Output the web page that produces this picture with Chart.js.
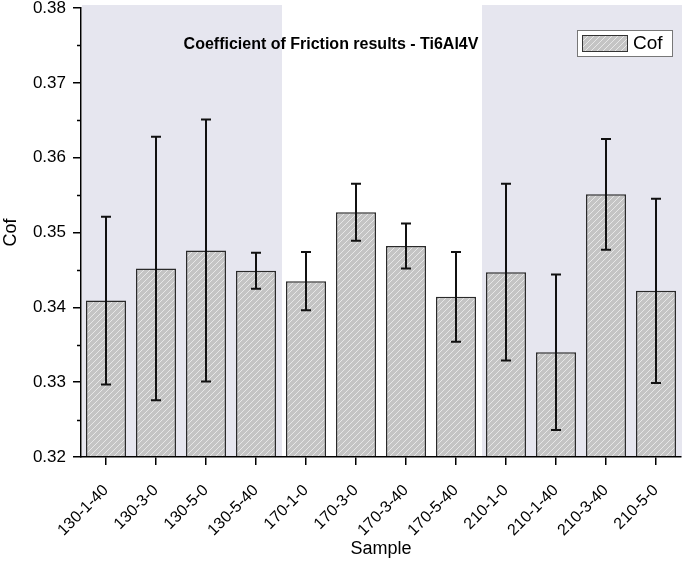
<!DOCTYPE html>
<html lang="en">
<head>
  <meta charset="UTF-8">
  <title>Coefficient of Friction results - Ti6Al4V</title>
  <script src="https://cdn.jsdelivr.net/npm/chart.js"></script>
  <style>
    html, body { margin: 0; padding: 0; background: #fff; }
    #wrap { width: 685px; height: 561px; }
  </style>
</head>
<body>
  <div id="wrap"><canvas id="cofChart" width="685" height="561"></canvas></div>

  <script>
    const samples = ['130-1-40', '130-3-0', '130-5-0', '130-5-40', '170-1-0', '170-3-0',
                     '170-3-40', '170-5-40', '210-1-0', '210-1-40', '210-3-40', '210-5-0'];
    const cofMean = [0.3409, 0.3452, 0.3476, 0.3449, 0.3435, 0.3527,
                     0.3482, 0.3414, 0.3447, 0.3340, 0.3551, 0.3422];
    const cofErr  = [0.0112, 0.0176, 0.0175, 0.0024, 0.0039, 0.0038,
                     0.0030, 0.0060, 0.0118, 0.0104, 0.0074, 0.0123];
    const minorTicks = [0.325, 0.335, 0.345, 0.355, 0.365, 0.375];
    // shaded groups (index ranges of samples)
    const shadedGroups = [[0, 3], [8, 11]];
    const chartTitle = 'Coefficient of Friction results - Ti6Al4V';
    const FONT = '"Liberation Sans", Arial, sans-serif';

    function hatchPattern() {
      const c = document.createElement('canvas');
      c.width = 6; c.height = 6;
      const g = c.getContext('2d');
      g.fillStyle = '#c4c4c4';
      g.fillRect(0, 0, 6, 6);
      g.strokeStyle = 'rgba(255,255,255,0.75)';
      g.lineWidth = 0.8;
      g.beginPath();
      g.moveTo(0, 6); g.lineTo(6, 0);
      g.moveTo(-3, 3); g.lineTo(3, -3);
      g.moveTo(3, 9); g.lineTo(9, 3);
      g.stroke();
      return g.createPattern(c, 'repeat');
    }
    const hatch = hatchPattern();

    // lavender panels behind groups + minor y ticks
    const shadePlugin = {
      id: 'shade',
      beforeDraw(chart) {
        const { ctx, chartArea, scales: { x, y } } = chart;
        const half = (x.getPixelForValue(1) - x.getPixelForValue(0)) / 2;
        ctx.save();
        ctx.fillStyle = '#e6e6ef';
        shadedGroups.forEach(([a, b]) => {
          const l = x.getPixelForValue(a) - half + 1;
          const r = x.getPixelForValue(b) + half + 1;
          ctx.fillRect(l, chartArea.top - 3, r - l, chartArea.bottom - chartArea.top + 3);
        });
        ctx.strokeStyle = '#000';
        ctx.lineWidth = 1.5;
        ctx.beginPath();
        minorTicks.forEach(v => {
          const py = Math.round(y.getPixelForValue(v)) + 0.5;
          ctx.moveTo(chartArea.left - 4, py);
          ctx.lineTo(chartArea.left, py);
        });
        ctx.stroke();
        ctx.restore();
      }
    };

    const errorBarPlugin = {
      id: 'errorBars',
      afterDatasetsDraw(chart) {
        const { ctx, scales: { x, y } } = chart;
        ctx.save();
        ctx.strokeStyle = '#111';
        ctx.lineWidth = 2;
        cofMean.forEach((m, i) => {
          const px = x.getPixelForValue(i);
          const top = y.getPixelForValue(m + cofErr[i]);
          const bot = y.getPixelForValue(m - cofErr[i]);
          ctx.beginPath();
          ctx.moveTo(px, top); ctx.lineTo(px, bot);
          ctx.moveTo(px - 5, top); ctx.lineTo(px + 5, top);
          ctx.moveTo(px - 5, bot); ctx.lineTo(px + 5, bot);
          ctx.stroke();
        });
        ctx.restore();
      }
    };

    const titleLegendPlugin = {
      id: 'titleLegend',
      afterDraw(chart) {
        const ctx = chart.ctx;
        ctx.save();
        ctx.fillStyle = '#000';
        ctx.font = 'bold 16px ' + FONT;
        ctx.textAlign = 'center';
        ctx.textBaseline = 'middle';
        ctx.fillText(chartTitle, 331, 45);

        // legend box
        ctx.fillStyle = '#fff';
        ctx.fillRect(577, 30, 96, 27);
        ctx.strokeStyle = '#777';
        ctx.lineWidth = 1;
        ctx.strokeRect(577.5, 30.5, 95, 26);
        ctx.fillStyle = hatch;
        ctx.fillRect(582, 35, 46, 17);
        ctx.strokeStyle = '#333';
        ctx.strokeRect(582.5, 35.5, 45, 16);
        ctx.fillStyle = '#000';
        ctx.font = '19px ' + FONT;
        ctx.textAlign = 'left';
        ctx.fillText(chart.data.datasets[0].label, 633, 44);
        ctx.restore();
      }
    };

    new Chart(document.getElementById('cofChart'), {
      type: 'bar',
      data: {
        labels: samples,
        datasets: [{
          label: 'Cof',
          data: cofMean,
          backgroundColor: hatch,
          borderColor: '#2a2a2a',
          borderWidth: 1.5,
          borderSkipped: false,
          barPercentage: 0.8,
          categoryPercentage: 1.0
        }]
      },
      options: {
        responsive: false,
        animation: false,
        layout: { padding: { top: 8, right: 4, left: 0, bottom: 0 } },
        plugins: {
          legend: { display: false },
          tooltip: { enabled: false }
        },
        scales: {
          x: {
            grid: { display: true, drawOnChartArea: false, offset: false, tickLength: 8, color: '#000', lineWidth: 1.5 },
            border: { display: true, color: '#000', width: 1.5, z: 1 },
            ticks: {
              color: '#000', font: { family: FONT, size: 16 },
              minRotation: 45, maxRotation: 45, padding: 16
            },
            title: { display: true, text: 'Sample', color: '#000', font: { family: FONT, size: 18 }, padding: { top: 0, bottom: 1 } },
            afterFit(scale) {
              scale.height = 104;
              scale.paddingTop = 0; scale.paddingBottom = 0;
              scale.paddingLeft = 0; scale.paddingRight = 0;
            }
          },
          y: {
            min: 0.32,
            max: 0.38,
            grid: {
              display: true, drawOnChartArea: false, tickLength: 8,
              color: '#000', lineWidth: 1.5
            },
            border: { display: true, color: '#000', width: 1.5 },
            ticks: {
              stepSize: 0.01,
              color: '#000', font: { family: FONT, size: 17 },
              padding: 7,
              callback: v => v.toFixed(2)
            },
            title: { display: true, text: 'Cof', color: '#000', font: { family: FONT, size: 18 }, padding: { top: 0, bottom: 4 } },
            afterFit(scale) {
              scale.width = 81;
              scale.paddingTop = 0; scale.paddingBottom = 0;
            }
          }
        }
      },
      plugins: [shadePlugin, errorBarPlugin, titleLegendPlugin]
    });
  </script>
</body>
</html>
